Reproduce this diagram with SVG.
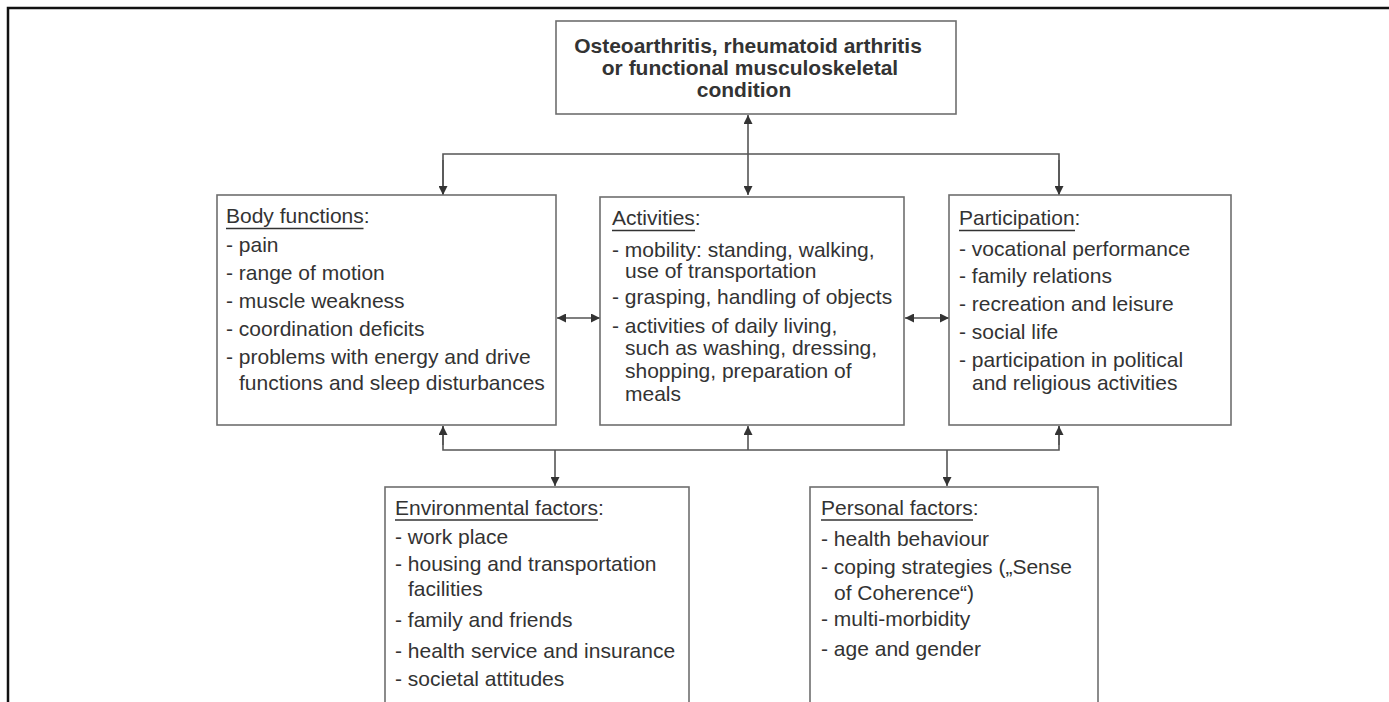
<svg xmlns="http://www.w3.org/2000/svg" width="1389" height="702" viewBox="0 0 1389 702">
<defs>
<style>
.box{fill:#fff;stroke:#6e6e6e;stroke-width:1.6}
.t{font-family:"Liberation Sans",Arial,sans-serif;font-size:21px;fill:#333}
.tb{font-family:"Liberation Sans",Arial,sans-serif;font-size:21px;font-weight:bold;fill:#333}
.ul{stroke:#333;stroke-width:1.5}
.c{fill:none;stroke:#555;stroke-width:1.6}
.a{marker-end:url(#ah)}
.a2{marker-start:url(#ah);marker-end:url(#ah)}
</style>
<marker id="ah" viewBox="0 0 10 10" refX="10" refY="5" markerWidth="9" markerHeight="9" markerUnits="userSpaceOnUse" orient="auto-start-reverse">
<path d="M0,0 L10,5 L0,10 z" fill="#333"/>
</marker>
</defs>
<rect width="1389" height="702" fill="#fff"/>
<polyline points="8,702 8,8 1389,8" fill="none" stroke="#111" stroke-width="2.5"/>

<g id="connectors">
<line class="c a2" x1="748" y1="115" x2="748" y2="195"/>
<polyline class="c" points="443,195 443,154 1059,154 1059,195"/>
<line class="c a" x1="443" y1="160" x2="443" y2="195"/>
<line class="c a" x1="1059" y1="160" x2="1059" y2="195"/>
<line class="c a2" x1="557" y1="318" x2="600" y2="318"/>
<line class="c a2" x1="905" y1="318" x2="949" y2="318"/>
<polyline class="c" points="443,426 443,450 1059,450 1059,426"/>
<line class="c a" x1="443" y1="445" x2="443" y2="426"/>
<line class="c a" x1="748" y1="450" x2="748" y2="426"/>
<line class="c a" x1="1059" y1="445" x2="1059" y2="426"/>
<line class="c a" x1="555" y1="450" x2="555" y2="486"/>
<line class="c a" x1="947" y1="450" x2="947" y2="486"/>
</g>

<g id="condition">
<rect class="box" x="556" y="21" width="400" height="93"/>
<text class="tb" text-anchor="middle"><tspan x="748" y="53">Osteoarthritis, rheumatoid arthritis</tspan><tspan x="750" y="75">or functional musculoskeletal</tspan><tspan x="744" y="97">condition</tspan></text>
</g>

<g id="body-functions">
<rect class="box" x="217" y="195" width="339" height="230"/>
<text class="t" x="226" y="223">Body functions:</text>
<line class="ul" x1="226" y1="228.5" x2="363.5" y2="228.5"/>
<text class="t"><tspan x="226" y="252">- pain</tspan><tspan x="226" y="280">- range of motion</tspan><tspan x="226" y="308">- muscle weakness</tspan><tspan x="226" y="336">- coordination deficits</tspan><tspan x="226" y="364">- problems with energy and drive</tspan><tspan x="239" y="390">functions and sleep disturbances</tspan></text>
</g>

<g id="activities">
<rect class="box" x="600" y="197" width="304" height="228"/>
<text class="t" x="612" y="225">Activities:</text>
<line class="ul" x1="612" y1="230.5" x2="695" y2="230.5"/>
<text class="t"><tspan x="612" y="257">- mobility: standing, walking,</tspan><tspan x="625" y="278">use of transportation</tspan><tspan x="612" y="304">- grasping, handling of objects</tspan><tspan x="612" y="333">- activities of daily living,</tspan><tspan x="625" y="355">such as washing, dressing,</tspan><tspan x="625" y="378">shopping, preparation of</tspan><tspan x="625" y="401">meals</tspan></text>
</g>

<g id="participation">
<rect class="box" x="949" y="195" width="282" height="230"/>
<text class="t" x="959" y="225">Participation:</text>
<line class="ul" x1="959" y1="230.5" x2="1075" y2="230.5"/>
<text class="t"><tspan x="959" y="256">- vocational performance</tspan><tspan x="959" y="283">- family relations</tspan><tspan x="959" y="311">- recreation and leisure</tspan><tspan x="959" y="339">- social life</tspan><tspan x="959" y="367">- participation in political</tspan><tspan x="972" y="390">and religious activities</tspan></text>
</g>

<g id="environmental-factors">
<rect class="box" x="385" y="487" width="304" height="230"/>
<text class="t" x="395" y="515">Environmental factors:</text>
<line class="ul" x1="395" y1="520" x2="598" y2="520"/>
<text class="t"><tspan x="395" y="544">- work place</tspan><tspan x="395" y="571">- housing and transportation</tspan><tspan x="408" y="596">facilities</tspan><tspan x="395" y="627">- family and friends</tspan><tspan x="395" y="658">- health service and insurance</tspan><tspan x="395" y="686">- societal attitudes</tspan></text>
</g>

<g id="personal-factors">
<rect class="box" x="810" y="487" width="288" height="230"/>
<text class="t" x="821" y="515">Personal factors:</text>
<line class="ul" x1="821" y1="520" x2="973" y2="520"/>
<text class="t"><tspan x="821" y="546">- health behaviour</tspan><tspan x="821" y="574">- coping strategies („Sense</tspan><tspan x="834" y="600">of Coherence“)</tspan><tspan x="821" y="626">- multi-morbidity</tspan><tspan x="821" y="656">- age and gender</tspan></text>
</g>
</svg>
